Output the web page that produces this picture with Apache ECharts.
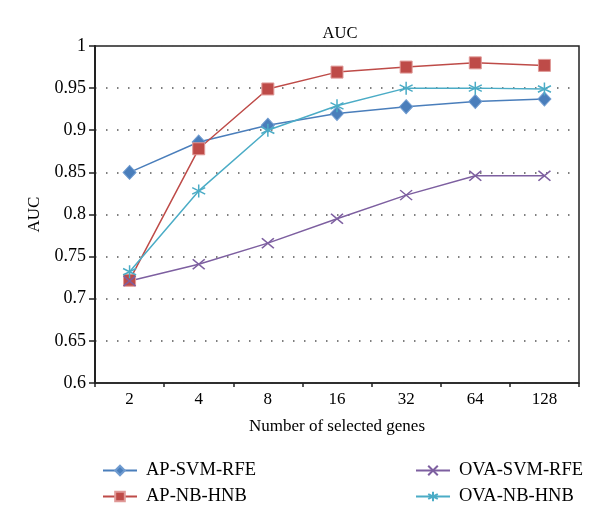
<!DOCTYPE html>
<html>
<head>
<meta charset="utf-8">
<script src="https://cdn.jsdelivr.net/npm/echarts@6/dist/echarts.min.js"></script>
<style>html,body{margin:0;padding:0;background:#fff;}#main{width:600px;height:527px;}</style>
</head>
<body>
<div id="main"></div>
<script>
var categories = ['2', '4', '8', '16', '32', '64', '128'];
var apSvmRfe = [0.850, 0.886, 0.906, 0.920, 0.928, 0.934, 0.937];
var apNbHnb = [0.722, 0.878, 0.949, 0.969, 0.975, 0.980, 0.977];
var ovaSvmRfe = [0.721, 0.741, 0.766, 0.795, 0.823, 0.846, 0.846];
var ovaNbHnb = [0.732, 0.828, 0.900, 0.929, 0.950, 0.950, 0.949];
var yTicks = [0.6, 0.65, 0.7, 0.75, 0.8, 0.85, 0.9, 0.95, 1];

var FONT = 'Liberation Serif';
var chart = echarts.init(document.getElementById('main'));
var starPath = 'path://M5,0L5,10M0.67,2.5L9.33,7.5M0.67,7.5L9.33,2.5';
var xPath = 'path://M0,0L10,10M0,10L10,0';

function mk(name, data, color, symbol, size, border, bw) {
  return {
    name: name, type: 'line', data: data, symbol: symbol, symbolSize: size,
    lineStyle: {color: color, width: 1.5},
    itemStyle: {color: color, borderColor: border, borderWidth: bw},
    emphasis: {disabled: true}
  };
}

var legendText = {fontFamily: FONT, fontSize: 18.5, color: '#000', padding: [0, 0, 0, 4]};

var option = {
  backgroundColor: '#fff',
  animation: false,
  title: {
    text: 'AUC', left: 335, top: 20, textAlign: 'center',
    textStyle: {fontFamily: FONT, fontSize: 16.5, fontWeight: 'normal', color: '#000'}
  },
  grid: {left: 95, right: 21, top: 46, bottom: 144, show: true, borderColor: '#222', borderWidth: 1.5},
  xAxis: {
    type: 'category', data: categories, boundaryGap: true,
    name: 'Number of selected genes', nameLocation: 'middle', nameGap: 35,
    nameTextStyle: {fontFamily: FONT, fontSize: 17, color: '#000'},
    axisLine: {lineStyle: {color: '#222', width: 1.5}},
    axisTick: {show: true, length: 4, inside: false, alignWithLabel: false, lineStyle: {color: '#222', width: 1.5}},
    axisLabel: {fontFamily: FONT, fontSize: 17, color: '#000', margin: 8},
    splitLine: {show: false}
  },
  yAxis: {
    type: 'value', min: 0.6, max: 1, interval: 0.05,
    name: 'AUC', nameLocation: 'middle', nameGap: 52, nameRotate: 90,
    nameTextStyle: {fontFamily: FONT, fontSize: 17, color: '#000'},
    axisLine: {show: true, lineStyle: {color: '#222', width: 2}},
    axisTick: {show: true, length: 6, lineStyle: {color: '#222', width: 1.5}},
    axisLabel: {
      fontFamily: FONT, fontSize: 18, color: '#000', margin: 9,
      formatter: function (v) {
        var best = yTicks.reduce(function (a, b) { return Math.abs(b - v) < Math.abs(a - v) ? b : a; });
        return String(best);
      }
    },
    splitLine: {show: true, lineStyle: {color: '#555', width: 1.5, type: [1.5, 9.5]}}
  },
  legend: [
    {
      data: ['AP-SVM-RFE', 'AP-NB-HNB'], orient: 'vertical', left: 97, top: 456,
      itemWidth: 34, itemHeight: 12, itemGap: 7, textStyle: legendText
    },
    {
      data: ['OVA-SVM-RFE', 'OVA-NB-HNB'], orient: 'vertical', left: 410, top: 456,
      itemWidth: 34, itemHeight: 12, itemGap: 7, textStyle: legendText
    }
  ],
  series: [
    mk('AP-SVM-RFE', apSvmRfe, '#4a7ebb', 'diamond', [13, 14], '#6f9bd0', 1),
    mk('AP-NB-HNB', apNbHnb, '#be4b48', 'rect', 12, '#e09a98', 1),
    mk('OVA-SVM-RFE', ovaSvmRfe, '#7d5fa0', xPath, [12, 10], '#7d5fa0', 1.5),
    mk('OVA-NB-HNB', ovaNbHnb, '#4bacc6', starPath, [13, 13], '#4bacc6', 1.5)
  ]
};
chart.setOption(option);
</script>
</body>
</html>
